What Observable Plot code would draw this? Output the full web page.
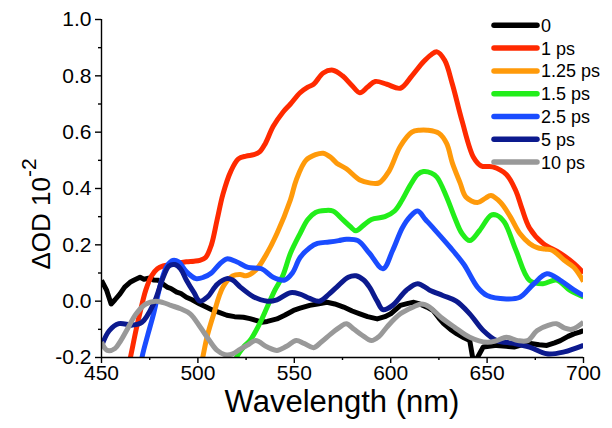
<!DOCTYPE html>
<html><head><meta charset="utf-8">
<script src="https://cdn.jsdelivr.net/npm/d3@7"></script>
<script src="https://cdn.jsdelivr.net/npm/@observablehq/plot@0.6"></script>
<style>
html,body{margin:0;padding:0;background:#fff;}
#chart{width:612px;height:428px;}
</style></head><body><div id="chart"></div>
<script>
const seriesNames = ["0","1 ps","1.25 ps","1.5 ps","2.5 ps","5 ps","10 ps"];
const seriesColors = ["#000000","#ff2a00","#ff9a0a","#22ee1a","#1a4cff","#0c1a8e","#999999"];
const xTicks = [450,500,550,600,650,700];
const yTicks = [-0.2,0,0.2,0.4,0.6,0.8,1.0];
const xMinor = [475,525,575,625,675];
const yMinor = [-0.1,0.1,0.3,0.5,0.7,0.9];

const wl0 = [450,452.7,455,457,459.6,462,464.8,467,470,472,475,477,479.5,482,484,486,489,491,494,497,501,504,508,511,515,519,523.6,527,530.6,533,536,541,545,549.6,553,558,562,567,571,575.6,580,584,588,593,597,600,605,609,612,615,618.8,622,625,627.5,631,634.4,638,641,643,645,648,651,655,660,664,668,672.5,677,681,685,688,692,695,698,700];
const od0 = [0.074,0.038,-0.01,0.005,0.026,0.05,0.067,0.075,0.085,0.078,0.082,0.075,0.074,0.06,0.05,0.045,0.032,0.028,0.014,0.005,-0.01,-0.02,-0.033,-0.04,-0.05,-0.055,-0.057,-0.062,-0.069,-0.075,-0.072,-0.063,-0.05,-0.033,-0.025,-0.015,-0.01,-0.004,-0.01,-0.021,-0.035,-0.045,-0.055,-0.063,-0.055,-0.045,-0.015,-0.008,-0.004,-0.01,-0.021,-0.033,-0.06,-0.08,-0.1,-0.116,-0.13,-0.14,-0.22,-0.2,-0.163,-0.16,-0.157,-0.16,-0.163,-0.155,-0.15,-0.155,-0.157,-0.148,-0.14,-0.125,-0.116,-0.11,-0.104];

const wl1 = [461,465,468,470,473,476,479,482,486,489,494,498,501,504,507,510,513,517,521,525,529,532,535,539,544,548,553,557,560,565,570,575,580,584,588,592,598,605,611,617,621,624,628,632,637,643,647,653,660,665,668,672,679,688,695,700];
const od1 = [-0.33,-0.2,-0.1,-0.04,0.04,0.09,0.115,0.125,0.13,0.134,0.14,0.142,0.145,0.155,0.2,0.29,0.38,0.46,0.505,0.515,0.52,0.53,0.56,0.62,0.67,0.70,0.74,0.76,0.77,0.81,0.82,0.80,0.765,0.74,0.76,0.78,0.77,0.756,0.80,0.85,0.875,0.885,0.855,0.77,0.64,0.51,0.48,0.477,0.45,0.39,0.33,0.26,0.205,0.17,0.134,0.1];

const wl2 = [499,502.5,505,508,513,518,522,525,530,535,541,548,551,556,561,565,569,572,577,584,589,594,599,605,611,615,619,625,629,632,636,639,645,649,652,657,662,667,672,676,680,684,690,695,700];
const od2 = [-0.32,-0.2,-0.12,-0.05,0.05,0.09,0.095,0.09,0.11,0.16,0.24,0.36,0.43,0.50,0.52,0.525,0.51,0.49,0.47,0.43,0.42,0.42,0.46,0.55,0.60,0.607,0.607,0.596,0.56,0.49,0.42,0.37,0.35,0.365,0.375,0.35,0.30,0.24,0.205,0.19,0.185,0.18,0.145,0.12,0.07];

const wl3 = [516,520,524,527,532,536,540,544,548,553,557,561,566,570,575,579,582,586,590,597,602,606,610,614,617,621,624,629,633,637,641,646,652,655,659,665,672,679,686,693,700];
const od3 = [-0.3,-0.2,-0.16,-0.14,-0.08,-0.02,0.04,0.09,0.17,0.24,0.29,0.315,0.322,0.32,0.29,0.265,0.25,0.27,0.29,0.30,0.32,0.36,0.41,0.45,0.46,0.455,0.44,0.37,0.30,0.24,0.215,0.25,0.305,0.305,0.28,0.18,0.074,0.062,0.075,0.038,0.015];

const wl4 = [469,471,474,477,481,484,487,490,494,499,503,507,511,515,520,526,533,539,545,549,553,558,562,568,573,577,583,589,596,601,606,610,614,618,622,631,638,645,650,660,667,674,681,688,695,700];
const od4 = [-0.3,-0.2,-0.12,-0.045,0.07,0.125,0.145,0.14,0.105,0.08,0.085,0.10,0.13,0.15,0.14,0.12,0.115,0.085,0.075,0.10,0.155,0.19,0.205,0.21,0.215,0.22,0.215,0.17,0.115,0.18,0.26,0.30,0.32,0.29,0.26,0.19,0.13,0.05,0.02,0.008,0.014,0.06,0.097,0.074,0.04,0.02];

const wl5 = [450,454,459,466,471,477,482,485,488,491,494,498,501,505,510,515,518,522,529,536,541,548,553,558,563,568,572,578,582,586,589,593,596,601,608,614,620,627,634,641,648,655,664,672,681,690,700];
const od5 = [-0.16,-0.105,-0.08,-0.085,-0.075,-0.01,0.085,0.125,0.13,0.115,0.075,0.03,0.0,0.015,0.06,0.08,0.075,0.05,0.015,0.0,0.005,0.03,0.025,0.01,0.0,0.025,0.05,0.085,0.09,0.075,0.05,0.0,-0.03,-0.015,0.038,0.062,0.04,0.02,0.0,-0.045,-0.104,-0.14,-0.15,-0.163,-0.187,-0.18,-0.157];

const wl6 = [450,453,457,460,463,468,473,478,482,486,491,496,501,506,510,514,518,522,526,530,536,541,546,551,555,560,564,569,574,577,581,585,590,594,598,605,612,616,620,626,633,641,650,655,660,666,671,676,682,686,690,694,700];
const od6 = [-0.145,-0.175,-0.168,-0.14,-0.104,-0.045,-0.01,0.0,-0.005,-0.015,-0.027,-0.045,-0.09,-0.14,-0.175,-0.19,-0.187,-0.17,-0.155,-0.14,-0.163,-0.175,-0.16,-0.14,-0.15,-0.165,-0.145,-0.116,-0.09,-0.08,-0.1,-0.12,-0.14,-0.125,-0.092,-0.045,-0.02,-0.01,-0.02,-0.057,-0.092,-0.128,-0.146,-0.14,-0.128,-0.14,-0.14,-0.104,-0.085,-0.08,-0.095,-0.1,-0.075];

const sets = [[wl0,od0],[wl1,od1],[wl2,od2],[wl3,od3],[wl4,od4],[wl5,od5],[wl6,od6]];
const rows = [];
sets.forEach(([w,o],i) => w.forEach((x,j) => rows.push({series: seriesNames[i], wl: x, od: o[j]})));

const FONT = '"Liberation Sans", Arial, Helvetica, sans-serif';

const svg = Plot.plot({
  width: 612, height: 428,
  marginLeft: 101, marginRight: 29, marginTop: 19, marginBottom: 71,
  style: {fontFamily: FONT, fontSize: "21px", color: "#000", background: "#fff"},
  x: {domain: [450, 700]},
  y: {domain: [-0.2, 1.0]},
  color: {domain: seriesNames, range: seriesColors},
  marks: [
    ...seriesNames.map((s, i) => Plot.line(rows, {
      filter: d => d.series === s,
      x: "wl", y: "od", stroke: "series",
      strokeWidth: 5, strokeLinejoin: "round", strokeLinecap: "butt",
      curve: i === 0 ? "linear" : "catmull-rom",
      clip: true
    })),
    Plot.ruleX([450], {strokeWidth: 1.4}),
    Plot.ruleY([-0.2], {strokeWidth: 1.4}),
    Plot.axisX({ticks: xTicks, tickSize: 6, tickPadding: 2, strokeWidth: 1.4, tickFormat: d => String(d), label: null, fontSize: 21}),
    Plot.axisX({ticks: xMinor, tickSize: 3, strokeWidth: 1.4, tickFormat: () => "", label: null}),
    Plot.axisY({ticks: yTicks, tickSize: 6, tickPadding: 4, strokeWidth: 1.4, tickFormat: d => d.toFixed(1), label: null, fontSize: 21}),
    Plot.axisY({ticks: yMinor, tickSize: 3, strokeWidth: 1.4, tickFormat: () => "", label: null})
  ]
});
document.getElementById("chart").appendChild(svg);

const s = d3.select(svg);
// x axis label
s.append("text")
  .attr("x", 342).attr("y", 412)
  .attr("text-anchor", "middle")
  .attr("font-family", FONT).attr("font-size", 31).attr("fill", "#000")
  .text("Wavelength (nm)");
// y axis label
const yl = s.append("text")
  .attr("transform", "translate(50,214) rotate(-90)")
  .attr("text-anchor", "middle")
  .attr("font-family", FONT).attr("font-size", 26).attr("fill", "#000");
yl.append("tspan").text("\u0394OD 10");
yl.append("tspan").attr("font-size", 21).attr("dy", -14).text("-2");

// legend
const lg = s.append("g");
seriesNames.forEach((name, i) => {
  const cy = 25.3 + i * 22.8;
  lg.append("line").attr("x1", 494).attr("x2", 537).attr("y1", cy).attr("y2", cy)
    .attr("stroke", seriesColors[i]).attr("stroke-width", 5.5).attr("stroke-linecap", "round");
  lg.append("text").attr("x", 541).attr("y", cy).attr("dy", "0.36em")
    .attr("text-anchor", "start")
    .attr("font-family", FONT).attr("font-size", 18).attr("fill", "#000").text(name);
});
</script></body></html>
